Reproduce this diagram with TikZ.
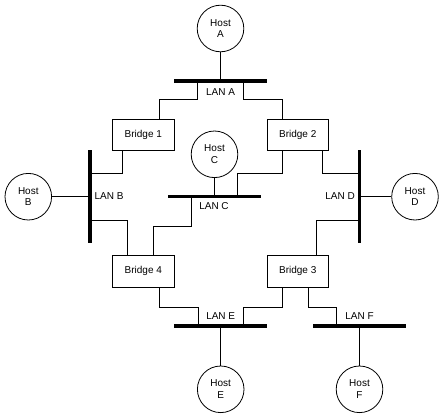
\documentclass[tikz,border=0pt]{standalone}
\usepackage{fontspec}
\setmainfont{Liberation Sans}
\begin{document}
\begin{tikzpicture}[x=1pt,y=-1pt,
  every node/.style={font=\fontsize{10}{11.7}\selectfont},
  host/.style={circle,draw,line width=0.8pt,minimum size=46.6pt,inner sep=0pt,align=center},
  bridgebox/.style={rectangle,draw,line width=0.8pt,minimum width=61.5pt,minimum height=31.4pt,inner sep=0pt},
  hbus/.style={rectangle,fill=black,minimum width=93pt,minimum height=3.2pt,inner sep=0pt},
  vbus/.style={rectangle,fill=black,minimum width=3.2pt,minimum height=93pt,inner sep=0pt},
  lanlabel/.style={inner sep=0pt},
  wire/.style={draw,line width=0.8pt}]
\useasboundingbox (0,0) rectangle (443,417);
% hosts
\node[host] (hostA) at (220.5,28.5) {Host\\A};
\node[host] (hostB) at (28.3,196.7) {Host\\B};
\node[host] (hostC) at (214.5,154.3) {Host\\C};
\node[host] (hostD) at (415,196.7) {Host\\D};
\node[host] (hostE) at (220.7,389.3) {Host\\E};
\node[host] (hostF) at (359.5,389.3) {Host\\F};
% bridges
\node[bridgebox] (bridge1) at (143.3,135) {Bridge 1};
\node[bridgebox] (bridge2) at (297.7,135) {Bridge 2};
\node[bridgebox] (bridge4) at (143.3,271.3) {Bridge 4};
\node[bridgebox] (bridge3) at (297.7,271.3) {Bridge 3};
% LAN buses
\node[hbus] (lanA) at (220.5,81) {};
\node[vbus] (lanB) at (90,196.7) {};
\node[hbus] (lanC) at (214.5,196.7) {};
\node[vbus] (lanD) at (359.3,196.7) {};
\node[hbus] (lanE) at (220.7,326) {};
\node[hbus] (lanF) at (359.5,326) {};
% labels
\node[lanlabel] (lA) at (220.5,92) {LAN A};
\node[lanlabel] (lB) at (109,196) {LAN B};
\node[lanlabel] (lC) at (214,206.5) {LAN C};
\node[lanlabel] (lD) at (340,196) {LAN D};
\node[lanlabel] (lE) at (220.7,316.5) {LAN E};
\node[lanlabel] (lF) at (359.5,316.5) {LAN F};
% host links
\draw[wire] (hostA) -- (lanA.center);
\draw[wire] (hostB) -- (lanB.center);
\draw[wire] (hostC) -- (lanC.center);
\draw[wire] (hostD) -- (lanD.center);
\draw[wire] (hostE) -- (lanE.center);
\draw[wire] (hostF) -- (lanF.center);
% bridge links
\draw[wire] ([xshift=-22.8pt]lanA.center) -- ++(0,18.3) -| ([xshift=16pt]bridge1.north);
\draw[wire] ([xshift=22.8pt]lanA.center) -- ++(0,18.3) -| ([xshift=-15.4pt]bridge2.north);
\draw[wire] ([xshift=-20.6pt]bridge1.south) |- ([yshift=23.4pt]lanB.center);
\draw[wire] ([xshift=-15.4pt]bridge2.south) -- ++(0,22.6) -| ([xshift=22.8pt]lanC.center);
\draw[wire] ([xshift=25pt]bridge2.south) |- ([yshift=23.4pt]lanD.center);
\draw[wire] ([yshift=-23.3pt]lanB.center) -| ([xshift=-15.6pt]bridge4.north);
\draw[wire] ([xshift=-22.8pt]lanC.center) -- ++(0,29.3) -| ([xshift=10pt]bridge4.north);
\draw[wire] ([yshift=-23.3pt]lanD.center) -| ([xshift=18.3pt]bridge3.north);
\draw[wire] ([xshift=16pt]bridge4.south) -- ++(0,20) -| ([xshift=-22.8pt]lanE.center);
\draw[wire] ([xshift=-15.4pt]bridge3.south) -- ++(0,20) -| ([xshift=22.8pt]lanE.center);
\draw[wire] ([xshift=11pt]bridge3.south) -- ++(0,20) -| ([xshift=-22.8pt]lanF.center);
\end{tikzpicture}
\end{document}
